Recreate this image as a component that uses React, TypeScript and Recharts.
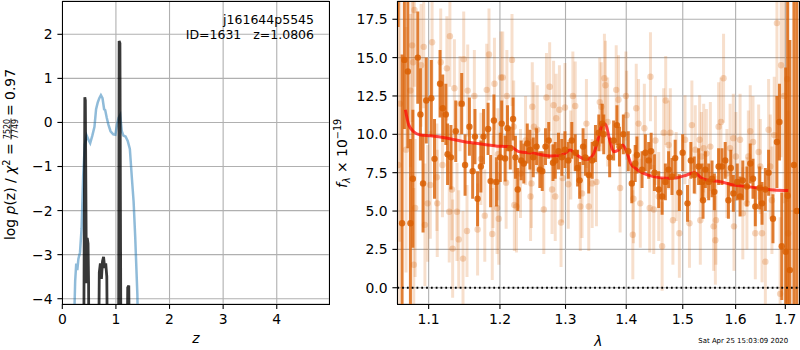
import React from 'react'
import {
  LineChart,
  Line,
  ComposedChart,
  Scatter,
  ErrorBar,
  XAxis,
  YAxis,
  CartesianGrid,
  ReferenceLine,
} from 'recharts'

const FONT = 'DejaVu Sans'
const FS = 13.9

// ---- left panel: log p(z) ----
const zTicks = [0, 1, 2, 3, 4]
const pzTicks = [-4, -3, -2, -1, 0, 1, 2]

// [z, value] light blue curve
const chi2Curve: [number, number][] = [
  [0.0, -8], [0.2, -5.5], [0.24, -3.6], [0.26, -3.2], [0.28, -3.35], [0.3, -3.1],
  [0.33, -2.95], [0.36, -2.4], [0.39, -1.2], [0.42, -0.5], [0.455, -0.3], [0.49, -0.4],
  [0.52, -0.47], [0.56, -0.3], [0.6, -0.1], [0.63, 0.3], [0.66, 0.45], [0.69, 0.55],
  [0.72, 0.62], [0.75, 0.55], [0.78, 0.3], [0.8, 0.28], [0.83, 0.1], [0.86, -0.05],
  [0.9, -0.2], [0.95, -0.27], [0.99, -0.28], [1.02, -0.05], [1.05, 0.1], [1.08, 0.17],
  [1.11, -0.2], [1.14, -0.3], [1.18, -0.32], [1.22, -0.42], [1.26, -0.6], [1.3, -1.3],
  [1.33, -1.8], [1.36, -2.6], [1.4, -3.9], [1.43, -6], [4.98, -8],
]

// [z, log p(z)] dark curve
const logPz: [number, number][] = [
  [0.0, -8], [0.39, -8], [0.42, 0.57], [0.43, 0.5], [0.445, -2.6], [0.455, -3.65],
  [0.465, -2.62], [0.48, -2.75], [0.49, -3.6], [0.505, -8], [0.66, -8], [0.69, -3.4],
  [0.71, -3.2], [0.73, -3.55], [0.75, -3.15], [0.77, -3.05], [0.79, -3.3], [0.81, -3.2],
  [0.83, -3.5], [0.86, -8], [1.045, -8], [1.06, 1.85], [1.075, 1.8], [1.1, -8],
  [1.19, -8], [1.22, -3.75], [1.24, -3.7], [1.27, -8], [4.98, -8],
]

// ---- right panel: spectrum ----
const lamTicks = [1.1, 1.2, 1.3, 1.4, 1.5, 1.6, 1.7]
const fluxTicks = [0, 2.5, 5, 7.5, 10, 12.5, 15, 17.5]
const lamDomain = [1.0587, 1.7293]
const fluxDomain = [-1.06, 18.69]

// [lambda, flux, err]
const darkSpec: [number, number, number][] = [
  [1.0597, 21.0, 4.0], [1.0649, 4.2, 11.0], [1.0679, 14.85, 4.5], [1.0724, 14.1, 5.0],
  [1.0758, 4.2, 5.5], [1.079, 7.1, 4.5], [1.0855, 15.0, 3.0], [1.089, 11.3, 3.0],
  [1.0925, 6.8, 3.2], [1.0968, 12.2, 2.8], [1.1036, 12.35, 2.5], [1.1079, 8.4, 2.6],
  [1.1154, 13.3, 2.2], [1.1191, 11.7, 2.2], [1.1233, 11.3, 2.0], [1.1257, 8.7, 2.0],
  [1.1303, 8.5, 2.1], [1.137, 10.2, 2.0], [1.1453, 12.0, 2.0], [1.15, 8.0, 2.0],
  [1.1561, 10.5, 1.9], [1.1607, 7.6, 1.8], [1.164, 9.85, 1.8], [1.1677, 5.8, 1.8],
  [1.1724, 7.9, 1.7], [1.1762, 9.85, 1.8], [1.1828, 10.35, 1.7], [1.1864, 6.95, 1.7],
  [1.1912, 10.9, 1.7], [1.1948, 6.9, 1.6], [1.2005, 8.5, 1.6],
  [1.2026, 10.7, 1.5], [1.2076, 8.43, 1.5], [1.2111, 10.4, 1.5], [1.2152, 9.1, 1.4],
  [1.2194, 11.0, 1.4], [1.2229, 8.5, 1.4], [1.2264, 6.4, 1.4], [1.2315, 8.3, 1.3],
  [1.2355, 8.1, 1.3], [1.2407, 9.4, 1.3], [1.2447, 9.0, 1.3], [1.2498, 8.5, 1.3],
  [1.2549, 9.2, 1.2], [1.2599, 7.7, 1.2], [1.2636, 7.6, 1.3], [1.2686, 9.2, 1.2],
  [1.2736, 9.6, 1.2], [1.2803, 8.15, 1.2], [1.2838, 8.3, 1.2], [1.2889, 8.9, 1.2],
  [1.2941, 8.5, 1.2], [1.2991, 9.0, 1.2], [1.3044, 8.3, 1.2], [1.31, 9.6, 1.2],
  [1.3155, 8.8, 1.2], [1.3193, 7.8, 1.2], [1.3226, 7.0, 1.2], [1.3282, 9.2, 1.2],
  [1.332, 8.5, 1.2], [1.3374, 7.35, 1.2], [1.343, 8.3, 1.2], [1.3484, 9.4, 1.2],
  [1.3539, 10.1, 1.2], [1.3595, 10.7, 1.3],
  [1.3621, 10.0, 1.3], [1.372, 8.5, 1.3], [1.3786, 9.6, 1.3], [1.3842, 10.6, 1.3],
  [1.3885, 9.2, 1.3], [1.3951, 10.0, 1.3], [1.4035, 8.9, 1.3], [1.4096, 6.8, 1.3],
  [1.4154, 8.1, 1.2], [1.4184, 8.65, 1.2], [1.4273, 7.7, 1.2], [1.4331, 8.8, 1.2],
  [1.4389, 8.3, 1.2], [1.4432, 8.9, 1.2], [1.449, 7.5, 1.2], [1.4566, 6.4, 1.2],
  [1.4627, 5.95, 1.2], [1.4685, 6.9, 1.2], [1.4743, 7.7, 1.2], [1.4804, 7.25, 1.2],
  [1.4862, 8.45, 1.2], [1.4938, 6.2, 1.2], [1.4998, 8.8, 1.2], [1.5087, 5.5, 1.2],
  [1.5149, 8.3, 1.2], [1.5212, 7.35, 1.2], [1.5293, 7.9, 1.2], [1.5357, 6.9, 1.2],
  [1.5376, 5.7, 1.2], [1.542, 7.7, 1.2], [1.5482, 6.9, 1.2], [1.5546, 7.1, 1.2],
  [1.559, 6.25, 1.2], [1.5671, 7.9, 1.2], [1.5735, 7.9, 1.2], [1.5798, 8.3, 1.2],
  [1.586, 5.7, 1.2], [1.5906, 7.8, 1.2], [1.5955, 6.15, 1.2], [1.6032, 6.9, 1.2],
  [1.6087, 5.95, 1.3], [1.6141, 7.0, 1.3], [1.6222, 6.6, 1.3], [1.6288, 8.1, 1.3],
  [1.6343, 7.1, 1.3], [1.6389, 5.3, 1.3], [1.6476, 6.5, 1.4], [1.6524, 5.5, 1.4],
  [1.6591, 6.4, 1.4], [1.6657, 7.5, 1.5], [1.6746, 4.5, 1.6], [1.6827, 9.5, 3.0],
  [1.6879, 10.8, 2.5], [1.6927, 2.7, 3.5], [1.7008, 2.35, 12], [1.705, 6.0, 14],
  [1.7095, 1.15, 15], [1.718, 8.0, 15], [1.724, 5.0, 15],
]

const lightSpec: [number, number, number][] = [
  [1.06, 8.0, 12], [1.062, 12.0, 9], [1.07, 9.0, 8], [1.0758, 12.85, 5],
  [1.078, 15.8, 5], [1.0793, 14.7, 5], [1.0802, 1.5, 5], [1.0811, 18.1, 5],
  [1.082, 5.2, 4.5], [1.0899, 14.5, 4], [1.0934, 15.7, 4], [1.095, 4.1, 4],
  [1.0987, 5.5, 3.8], [1.1022, 6.7, 3.5], [1.1046, 16.0, 3.5], [1.1111, 7.2, 3.5],
  [1.1116, 5.5, 3.5], [1.1163, 14.7, 3.5], [1.1187, 8.0, 3.4], [1.1247, 14.3, 3.4],
  [1.128, 4.95, 3.3], [1.1289, 16.4, 3.3], [1.1317, 6.4, 3.3], [1.1327, 2.55, 3.2],
  [1.1351, 13.0, 3.2], [1.1387, 4.95, 3.2], [1.1411, 3.15, 3.2], [1.1429, 12.0, 3.1],
  [1.1471, 1.9, 3.1], [1.1481, 14.9, 3.1], [1.1527, 3.7, 3.0], [1.1537, 12.85, 3.0],
  [1.1631, 12.5, 3.0], [1.1677, 3.8, 3.0], [1.1724, 8.4, 3.0], [1.178, 4.7, 3.0],
  [1.1808, 12.9, 3.0], [1.1841, 15.2, 3.0], [1.1888, 3.5, 3.0], [1.19, 6.9, 3.0],
  [1.192, 13.3, 3.0], [1.1958, 5.2, 3.0], [1.197, 8.7, 3.0], [1.1982, 4.5, 3.0],
  [1.2015, 13.7, 3.0],
  [1.2041, 13.7, 3.0], [1.2091, 6.85, 3.0], [1.2102, 12.5, 3.0], [1.2178, 14.85, 3.0],
  [1.2203, 10.5, 3.0], [1.2213, 5.4, 3.0], [1.2244, 5.3, 3.0], [1.2305, 7.45, 2.9],
  [1.2381, 9.6, 2.9], [1.2457, 5.95, 2.9], [1.247, 6.8, 2.9], [1.2483, 11.8, 2.9],
  [1.2508, 10.5, 2.9], [1.2559, 10.3, 2.9], [1.266, 5.1, 2.9], [1.2701, 12.4, 2.9],
  [1.2751, 13.1, 2.9], [1.2788, 6.4, 2.9], [1.2812, 11.9, 2.9], [1.2838, 5.95, 2.9],
  [1.2853, 11.05, 2.9], [1.2904, 11.6, 2.9], [1.2929, 4.25, 2.9], [1.2955, 7.15, 2.9],
  [1.2991, 11.75, 2.9], [1.3044, 6.75, 2.9], [1.3084, 8.65, 2.9], [1.3117, 12.5, 2.9],
  [1.3155, 11.85, 2.9], [1.3237, 5.3, 2.9], [1.3265, 6.15, 2.9], [1.3336, 10.7, 2.9],
  [1.3374, 5.3, 2.9], [1.343, 6.8, 2.9], [1.35, 6.9, 2.9], [1.3555, 12.1, 2.9],
  [1.358, 11.8, 2.9], [1.3632, 13.65, 2.9],
  [1.3649, 13.2, 2.9], [1.3687, 10.8, 2.9], [1.383, 12.9, 2.9], [1.3868, 12.25, 2.9],
  [1.3896, 6.5, 2.9], [1.3995, 12.5, 2.9], [1.4007, 11.25, 2.9], [1.4113, 3.45, 2.9],
  [1.4124, 5.8, 2.9], [1.4172, 11.7, 2.9], [1.4212, 10.7, 2.9], [1.4242, 5.5, 2.9],
  [1.4313, 10.4, 2.9], [1.4407, 5.2, 2.9], [1.442, 13.75, 2.9], [1.4478, 5.1, 2.9],
  [1.4508, 9.6, 2.9], [1.4566, 5.95, 2.9], [1.4627, 2.7, 2.9], [1.4655, 10.1, 2.9],
  [1.4691, 12.2, 2.9], [1.4743, 9.3, 2.9], [1.4774, 10.1, 2.9], [1.4821, 4.4, 2.9],
  [1.488, 7.25, 2.9], [1.4938, 3.55, 2.9], [1.5042, 9.65, 2.9], [1.5123, 4.2, 2.9],
  [1.5168, 10.6, 2.9], [1.5231, 9.0, 2.9], [1.5312, 9.65, 2.9], [1.5325, 4.4, 2.9],
  [1.5345, 8.55, 2.9],
  [1.5388, 9.1, 2.9], [1.5439, 8.75, 2.9], [1.5514, 9.2, 2.9], [1.5576, 4.0, 2.9],
  [1.5609, 3.1, 2.9], [1.562, 4.4, 2.9], [1.5671, 10.5, 2.9], [1.5716, 10.8, 2.9],
  [1.5766, 13.65, 2.9], [1.583, 7.45, 2.9], [1.5892, 9.1, 2.9], [1.5955, 9.75, 2.9],
  [1.5968, 4.0, 2.9], [1.6006, 8.55, 2.9], [1.6087, 9.65, 3.0], [1.6141, 4.85, 3.0],
  [1.6222, 5.5, 3.0], [1.625, 8.55, 3.0], [1.6288, 10.2, 3.0], [1.6343, 9.5, 3.0],
  [1.6389, 3.55, 3.0], [1.6456, 8.85, 3.1], [1.649, 7.9, 3.1], [1.6524, 3.55, 3.2],
  [1.6591, 1.7, 3.2], [1.6657, 10.3, 3.3], [1.6691, 7.9, 3.4], [1.6725, 5.7, 3.5],
  [1.6772, 9.95, 3.8], [1.6827, 17.25, 5], [1.6893, -0.4, 5], [1.6913, 14.5, 6],
  [1.6974, 12.5, 7], [1.704, 13.6, 8], [1.706, 3.55, 8],
]

// [lambda, flux] best-fit model
const modelSpec: [number, number][] = [
  [1.0692, 11.6], [1.0737, 10.6], [1.0802, 10.17], [1.089, 9.96], [1.1022, 9.9],
  [1.1257, 9.74], [1.1491, 9.52], [1.1724, 9.37], [1.2, 9.22], [1.2152, 9.2],
  [1.2279, 8.87], [1.2508, 8.76], [1.2762, 8.59], [1.2889, 8.6], [1.2991, 8.76],
  [1.3072, 8.98], [1.3138, 8.8], [1.3237, 8.5], [1.3357, 8.37], [1.3456, 8.76],
  [1.3539, 9.85], [1.3595, 10.6], [1.3649, 10.67], [1.372, 9.63], [1.3786, 8.87],
  [1.3868, 8.98], [1.394, 9.3], [1.4007, 8.87], [1.4078, 8.1], [1.4154, 7.8],
  [1.4301, 7.46], [1.4478, 7.24], [1.4715, 7.13], [1.4892, 7.17], [1.5074, 7.35],
  [1.5217, 7.5], [1.5357, 7.13], [1.5452, 7.02], [1.5703, 6.91], [1.5955, 6.7],
  [1.6222, 6.59], [1.649, 6.48], [1.6759, 6.37], [1.7061, 6.33],
]

const toPz = (rows: [number, number][]) => rows.map(([z, v]) => ({ z, v }))
const toSpec = (rows: [number, number, number][]) =>
  rows.map(([lam, flux, err]) => ({ lam, flux, err }))

const ORANGE = '#d95f02'
const tickStyle = { fontSize: FS, fill: '#000', fontFamily: FONT }
const minus = (v: number) => (v < 0 ? '\u2212' + Math.abs(v) : String(v))

const darkDot = (p: any) => (
  <circle cx={p.cx} cy={p.cy} r={3.2} fill={ORANGE} fillOpacity={0.85} />
)
const lightDot = (p: any) => (
  <circle cx={p.cx} cy={p.cy} r={3.2} fill={ORANGE} fillOpacity={0.25} />
)

function Frame({ x0, x1, y0, y1 }: { x0: number; x1: number; y0: number; y1: number }) {
  return (
    <div
      style={{
        position: 'absolute',
        left: x0 - 0.5,
        top: y0 - 0.5,
        width: x1 - x0 + 1,
        height: y1 - y0 + 1,
        border: '1px solid #000',
        boxSizing: 'border-box',
        pointerEvents: 'none',
      }}
    />
  )
}

// right plot area inside its 470x350 chart box
const RM = { top: 1, right: 0.7, bottom: 46, left: 67.3 }

export default function App() {
  return (
    <div
      style={{
        position: 'absolute',
        left: 0,
        top: 0,
        width: 800,
        height: 350,
        background: '#fff',
        fontFamily: FONT,
        overflow: 'hidden',
      }}
    >
      <div style={{ position: 'absolute', left: 0, top: 0 }}>
        <LineChart width={340} height={350} margin={{ top: 1, right: 10.7, bottom: 16, left: 0 }}>
          <CartesianGrid stroke="#b0b0b0" strokeWidth={1.1} />
          <XAxis
            type="number"
            dataKey="z"
            domain={[0, 4.98]}
            ticks={zTicks}
            allowDataOverflow
            height={30}
            axisLine={false}
            tickLine={{ stroke: '#000', strokeWidth: 1.1 }}
            tickSize={4.9}
            tickMargin={5.5}
            tick={tickStyle}
          />
          <YAxis
            type="number"
            dataKey="v"
            domain={[-4.12, 2.756]}
            ticks={pzTicks}
            allowDataOverflow
            width={62.3}
            axisLine={false}
            tickLine={{ stroke: '#000', strokeWidth: 1.1 }}
            tickSize={4.9}
            tickMargin={4.9}
            tick={tickStyle}
            tickFormatter={minus}
          />
          <Line
            data={toPz(chi2Curve)}
            dataKey="v"
            stroke="#1f77b4"
            strokeOpacity={0.5}
            strokeWidth={2.5}
            dot={false}
            isAnimationActive={false}
          />
          <Line
            data={toPz(logPz)}
            dataKey="v"
            stroke="#000"
            strokeOpacity={0.78}
            strokeWidth={2.8}
            dot={false}
            isAnimationActive={false}
          />
        </LineChart>
      </div>

      {/* right panel: axes + grid */}
      <div style={{ position: 'absolute', left: 330, top: 0 }}>
        <ComposedChart width={470} height={350} margin={{ top: 1, right: 0.7, bottom: 16, left: 0 }}>
          <CartesianGrid stroke="#b0b0b0" strokeWidth={1.1} />
          <XAxis
            type="number"
            dataKey="lam"
            scale="log"
            domain={lamDomain}
            ticks={lamTicks}
            allowDataOverflow
            height={30}
            axisLine={false}
            tickLine={{ stroke: '#000', strokeWidth: 1.1 }}
            tickSize={4.9}
            tickMargin={5.5}
            tick={tickStyle}
            tickFormatter={(v: number) => v.toFixed(1)}
          />
          <YAxis
            type="number"
            dataKey="flux"
            domain={fluxDomain}
            ticks={fluxTicks}
            allowDataOverflow
            width={67.3}
            axisLine={false}
            tickLine={{ stroke: '#000', strokeWidth: 1.1 }}
            tickSize={4.9}
            tickMargin={4.9}
            tick={tickStyle}
            tickFormatter={(v: number) => v.toFixed(1)}
          />
        </ComposedChart>
      </div>

      {/* right panel: data, clipped to the plot area */}
      <div
        style={{
          position: 'absolute',
          left: 330,
          top: 0,
          clipPath: `inset(${RM.top}px ${RM.right}px ${RM.bottom}px ${RM.left}px)`,
        }}
      >
        <ComposedChart width={470} height={350} margin={RM}>
          <XAxis type="number" dataKey="lam" scale="log" domain={lamDomain} allowDataOverflow hide />
          <YAxis type="number" dataKey="flux" domain={fluxDomain} allowDataOverflow hide />
          <Scatter data={toSpec(lightSpec)} dataKey="flux" shape={lightDot} isAnimationActive={false}>
            <ErrorBar
              dataKey="err"
              direction="y"
              width={0}
              stroke={ORANGE}
              strokeOpacity={0.2}
              strokeWidth={3}
            />
          </Scatter>
          <Scatter data={toSpec(darkSpec)} dataKey="flux" shape={darkDot} isAnimationActive={false}>
            <ErrorBar
              dataKey="err"
              direction="y"
              width={0}
              stroke={ORANGE}
              strokeOpacity={0.8}
              strokeWidth={3}
            />
          </Scatter>
          <ReferenceLine y={0} stroke="#000" strokeWidth={1.8} strokeDasharray="1.8 3" />
          <Line
            data={modelSpec.map(([lam, flux]) => ({ lam, flux }))}
            dataKey="flux"
            type="monotone"
            stroke="#ff0000"
            strokeOpacity={0.7}
            strokeWidth={3}
            dot={false}
            isAnimationActive={false}
          />
        </ComposedChart>
      </div>

      <Frame x0={62.3} x1={329.3} y0={1} y1={304} />
      <Frame x0={397.3} x1={799.3} y0={1} y1={304} />

      <svg
        width={800}
        height={350}
        style={{ position: 'absolute', left: 0, top: 0, pointerEvents: 'none' }}
        fontFamily={FONT}
      >
        <text x={314} y={23.5} fontSize={12.5} textAnchor="end">
          j161644p5545
        </text>
        <text x={314} y={38.5} fontSize={12.5} textAnchor="end" style={{ whiteSpace: 'pre' }}>
          {'ID=1631   z=1.0806'}
        </text>

        <g transform="translate(15,240) rotate(-90)">
          <text x={0} y={0} fontSize={FS}>
            log <tspan fontStyle="italic">p</tspan>(z) / <tspan fontStyle="italic">χ</tspan>
            <tspan dy={-5.5} fontSize={9.7}>2</tspan>
            <tspan dy={5.5}> =</tspan>
          </text>
          <text x={111} y={-5.5} fontSize={8} textAnchor="middle">7520</text>
          <line x1={100.5} x2={121.5} y1={-4} y2={-4} stroke="#000" strokeWidth={0.8} />
          <text x={111} y={2.8} fontSize={8} textAnchor="middle">7749</text>
          <text x={124} y={0} fontSize={FS}>= 0.97</text>
        </g>

        <g transform="translate(346.5,188) rotate(-90)">
          <text x={0} y={0} fontSize={FS}>
            <tspan fontStyle="italic">f</tspan>
            <tspan dy={3} fontSize={9.7} fontStyle="italic">λ</tspan>
            <tspan dy={-3}> × 10</tspan>
            <tspan dy={-5.5} fontSize={9.7}>−19</tspan>
          </text>
        </g>

        <text x={195.8} y={343} fontSize={FS} fontStyle="italic" textAnchor="middle">
          z
        </text>
        <text x={598.3} y={345.5} fontSize={FS} fontStyle="italic" textAnchor="middle">
          λ
        </text>
        <text x={698.3} y={342.5} fontSize={6.94}>
          Sat Apr 25 15:03:09 2020
        </text>
      </svg>
    </div>
  )
}
